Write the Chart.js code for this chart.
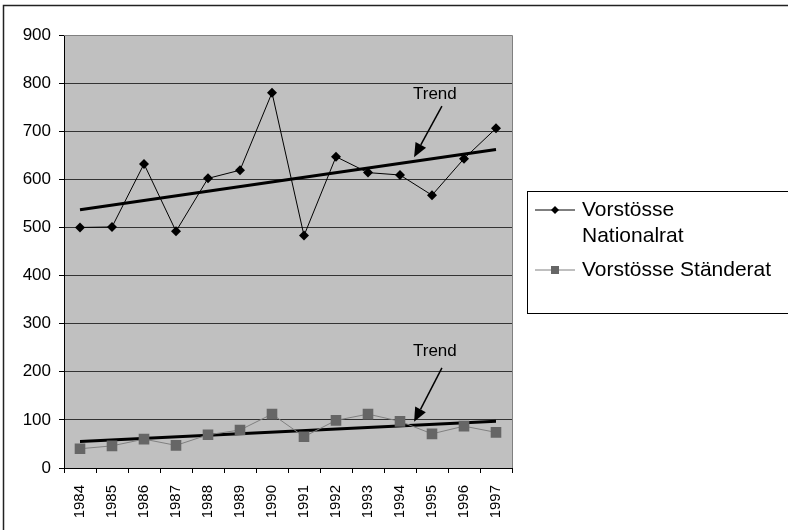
<!DOCTYPE html>
<html>
<head>
<meta charset="utf-8">
<script src="https://cdn.jsdelivr.net/npm/chart.js@4.4.1/dist/chart.umd.min.js"></script>
<style>
  body { margin: 0; background: #fff; }
  canvas { display: block; }
</style>
</head>
<body>
<canvas id="chart" width="788" height="530"></canvas>
<script>
// categories and values
const years = ["1984", "1985", "1986", "1987", "1988", "1989", "1990",
               "1991", "1992", "1993", "1994", "1995", "1996", "1997"];
const nationalrat = [500, 501, 632, 492, 602, 619, 780, 483, 647, 614, 609, 567, 643, 706];
const staenderat = [40, 46, 60, 47, 69, 79, 112, 65, 99, 112, 97, 71, 87, 74];
// trend lines: start and end value
const trendNational = [537, 662];
const trendStaende = [55, 97];
const yTicks = [0, 100, 200, 300, 400, 500, 600, 700, 800, 900];

const FONT = "'Liberation Sans', Arial, sans-serif";

// "Trend" callouts in data units (category index, value)
const callouts = [
    { text: [11.09, 777], from: [11.31, 752], to: [10.44, 646] },
    { text: [11.09, 242], from: [11.31, 208], to: [10.44, 96] }
];

const chartDecor = {
    id: "chartDecor",
    beforeDraw(chart) {
        const c = chart.ctx, a = chart.chartArea;
        c.save();
        c.fillStyle = "#c0c0c0";
        c.fillRect(a.left, a.top, a.right - a.left, a.bottom - a.top);
        c.restore();
    },
    beforeDatasetsDraw(chart) {
        const c = chart.ctx, a = chart.chartArea;
        const xs = chart.scales.x;
        c.save();
        c.strokeStyle = "#808080";
        c.lineWidth = 1;
        c.beginPath();
        c.moveTo(a.left, a.top + 0.5);
        c.lineTo(a.right + 0.5, a.top + 0.5);
        c.lineTo(a.right + 0.5, a.bottom);
        c.stroke();
        // tick marks between the categories, below the x axis
        c.strokeStyle = "#000";
        c.beginPath();
        for (let i = 0; i <= years.length; i++) {
            const x = Math.round(xs.getPixelForValue(i - 0.5)) + 0.5;
            c.moveTo(x, a.bottom);
            c.lineTo(x, a.bottom + 5);
        }
        c.stroke();
        c.restore();
    },
    afterDraw(chart) {
        const c = chart.ctx;
        const xs = chart.scales.x, ys = chart.scales.y;
        c.save();

        // outer frame (cut off on the right and bottom)
        c.strokeStyle = "#222";
        c.lineWidth = 1.5;
        c.strokeRect(3.5, 5.5, 900, 900);

        // callouts
        c.fillStyle = "#000";
        c.strokeStyle = "#000";
        c.font = "17px " + FONT;
        c.textAlign = "center";
        c.textBaseline = "middle";
        callouts.forEach(function(k) {
            c.fillText("Trend", xs.getPixelForValue(k.text[0]), ys.getPixelForValue(k.text[1]));
            const x1 = xs.getPixelForValue(k.from[0]), y1 = ys.getPixelForValue(k.from[1]);
            const x2 = xs.getPixelForValue(k.to[0]), y2 = ys.getPixelForValue(k.to[1]);
            const ang = Math.atan2(y2 - y1, x2 - x1);
            const len = 14, half = 6;
            const bx = x2 - Math.cos(ang) * len, by = y2 - Math.sin(ang) * len;
            c.lineWidth = 1.5;
            c.beginPath();
            c.moveTo(x1, y1);
            c.lineTo(bx, by);
            c.stroke();
            c.beginPath();
            c.moveTo(x2, y2);
            c.lineTo(bx + Math.sin(ang) * half, by - Math.cos(ang) * half);
            c.lineTo(bx - Math.sin(ang) * half, by + Math.cos(ang) * half);
            c.closePath();
            c.fill();
        });

        // legend box
        c.lineWidth = 1;
        c.strokeStyle = "#000";
        c.strokeRect(527.5, 191.5, 400, 122);
        c.font = "21px " + FONT;
        c.textAlign = "left";
        c.textBaseline = "middle";
        const items = [
            { ds: chart.data.datasets[0], lines: ["Vorstösse", "Nationalrat"], y: 210 },
            { ds: chart.data.datasets[1], lines: ["Vorstösse Ständerat"], y: 270 }
        ];
        items.forEach(function(it) {
            c.strokeStyle = it.ds.borderColor;
            c.lineWidth = 1;
            c.beginPath();
            c.moveTo(535, it.y);
            c.lineTo(575, it.y);
            c.stroke();
            c.fillStyle = it.ds.pointBackgroundColor;
            if (it.ds.pointStyle === "rectRot") {
                c.beginPath();
                c.moveTo(555, it.y - 4);
                c.lineTo(559, it.y);
                c.lineTo(555, it.y + 4);
                c.lineTo(551, it.y);
                c.closePath();
                c.fill();
            } else {
                c.fillRect(551, it.y - 4, 8, 8);
            }
            c.fillStyle = "#000";
            it.lines.forEach(function(t, i) {
                c.fillText(t, 582, it.y + i * 26);
            });
        });
        c.restore();
    }
};

const ctx = document.getElementById("chart").getContext("2d");

new Chart(ctx, {
    type: "line",
    data: {
        labels: years,
        datasets: [{
            label: "Vorstösse Nationalrat",
            data: nationalrat,
            borderColor: "#000",
            borderWidth: 1,
            pointStyle: "rectRot",
            pointRadius: 5,
            pointBackgroundColor: "#000",
            pointBorderColor: "#000",
            pointBorderWidth: 0
        }, {
            label: "Vorstösse Ständerat",
            data: staenderat,
            borderColor: "#808080",
            borderWidth: 1,
            pointStyle: "rect",
            pointRadius: 7.5,
            pointBackgroundColor: "#666",
            pointBorderColor: "#666",
            pointBorderWidth: 0
        }, {
            label: "Trend N",
            data: [{ x: years[0], y: trendNational[0] }, { x: years[years.length - 1], y: trendNational[1] }],
            borderColor: "#000",
            borderWidth: 3,
            pointRadius: 0
        }, {
            label: "Trend S",
            data: [{ x: years[0], y: trendStaende[0] }, { x: years[years.length - 1], y: trendStaende[1] }],
            borderColor: "#000",
            borderWidth: 3,
            pointRadius: 0
        }]
    },
    options: {
        responsive: false,
        animation: false,
        layout: { padding: { top: 35, right: 276, left: 0, bottom: 0 } },
        plugins: {
            legend: { display: false },
            tooltip: { enabled: false }
        },
        scales: {
            x: {
                offset: true,
                afterFit: function(s) { s.height = 62; },
                grid: { display: false },
                border: { color: "#000", width: 1 },
                ticks: {
                    color: "#000",
                    font: { family: "'Liberation Sans Narrow', " + FONT, size: 15 },
                    minRotation: 90,
                    maxRotation: 90,
                    padding: 9,
                    autoSkip: false
                }
            },
            y: {
                min: 0,
                max: 900,
                afterFit: function(s) { s.width = 64; },
                afterBuildTicks: function(s) { s.ticks = yTicks.map(function(v) { return { value: v }; }); },
                grid: {
                    color: function(c) { return c.tick && c.tick.value === 900 ? "#808080" : "#333"; },
                    tickColor: "#000",
                    tickLength: 5,
                    lineWidth: 1
                },
                border: { color: "#000", width: 1 },
                ticks: {
                    color: "#000",
                    font: { family: FONT, size: 17 },
                    padding: 8
                }
            }
        }
    },
    plugins: [chartDecor]
});
</script>
</body>
</html>
